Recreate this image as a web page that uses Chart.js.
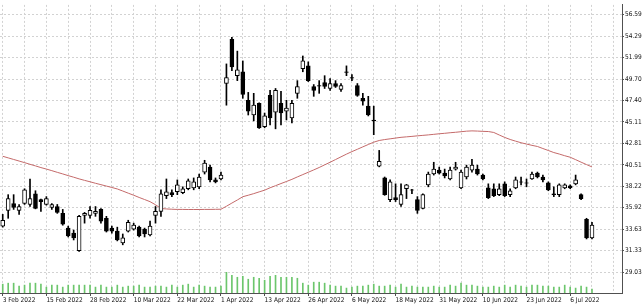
<!DOCTYPE html>
<html><head><meta charset="utf-8">
<script src="https://cdn.jsdelivr.net/npm/chart.js@4.4.0/dist/chart.umd.min.js"></script>
<style>html,body{margin:0;padding:0;background:#fff;overflow:hidden}#wrap{width:644px;height:305px;position:relative}</style>
</head><body><div id="wrap"><canvas id="c"></canvas></div>
<script>
const dates = ['3 Feb 2022','4 Feb 2022','7 Feb 2022','8 Feb 2022','9 Feb 2022','10 Feb 2022','11 Feb 2022','14 Feb 2022','15 Feb 2022','16 Feb 2022','17 Feb 2022','18 Feb 2022','22 Feb 2022','23 Feb 2022','24 Feb 2022','25 Feb 2022','28 Feb 2022',
'1 Mar 2022','2 Mar 2022','3 Mar 2022','4 Mar 2022','7 Mar 2022','8 Mar 2022','9 Mar 2022','10 Mar 2022','11 Mar 2022','14 Mar 2022','15 Mar 2022','16 Mar 2022','17 Mar 2022','18 Mar 2022','21 Mar 2022','22 Mar 2022','23 Mar 2022','24 Mar 2022','25 Mar 2022','28 Mar 2022','29 Mar 2022','30 Mar 2022','31 Mar 2022',
'1 Apr 2022','4 Apr 2022','5 Apr 2022','6 Apr 2022','7 Apr 2022','8 Apr 2022','11 Apr 2022','12 Apr 2022','13 Apr 2022','14 Apr 2022','18 Apr 2022','19 Apr 2022','20 Apr 2022','21 Apr 2022','22 Apr 2022','25 Apr 2022','26 Apr 2022','27 Apr 2022','28 Apr 2022','29 Apr 2022',
'2 May 2022','3 May 2022','4 May 2022','5 May 2022','6 May 2022','9 May 2022','10 May 2022','11 May 2022','12 May 2022','13 May 2022','16 May 2022','17 May 2022','18 May 2022','19 May 2022','20 May 2022','23 May 2022','24 May 2022','25 May 2022','26 May 2022','27 May 2022','31 May 2022',
'1 Jun 2022','2 Jun 2022','3 Jun 2022','6 Jun 2022','7 Jun 2022','8 Jun 2022','9 Jun 2022','10 Jun 2022','13 Jun 2022','14 Jun 2022','15 Jun 2022','16 Jun 2022','17 Jun 2022','21 Jun 2022','22 Jun 2022','23 Jun 2022','24 Jun 2022','27 Jun 2022','28 Jun 2022','29 Jun 2022','30 Jun 2022',
'1 Jul 2022','5 Jul 2022','6 Jul 2022','7 Jul 2022','8 Jul 2022','11 Jul 2022','12 Jul 2022'];

const open = [33.95,35.63,36.37,35.63,36.37,36.27,37.42,36.79,36.27,35.95,
36.05,35.32,33.74,33.21,31.32,35.11,35.11,35.32,35.74,34.79,
33.74,33.42,32.16,33.42,33.63,33.84,33.63,33.00,35.11,35.53,
37.21,37.53,37.63,37.53,37.95,38.05,38.16,39.74,40.27,38.90,
39.00,49.22,53.96,50.06,50.48,47.43,45.85,47.11,44.59,47.96,
46.16,47.11,46.27,45.53,48.17,50.80,51.11,48.90,49.01,49.32,
48.69,49.22,48.59,50.48,49.85,49.01,47.64,46.80,45.30,40.37,
39.11,36.79,37.00,36.27,37.95,37.84,36.79,35.84,38.37,39.53,
39.95,39.63,39.00,40.06,38.05,39.21,39.95,40.06,39.42,38.05,
37.95,37.32,38.48,37.32,38.05,38.69,38.58,39.00,39.63,39.21,
38.58,37.42,37.32,38.05,38.27,38.48,37.32,34.69,32.69];
const high = [35.21,37.32,37.32,36.27,37.95,39.00,37.74,36.85,37.11,36.37,
36.27,35.74,33.95,33.53,35.11,35.42,36.05,36.05,35.84,35.00,
33.95,33.84,33.11,34.58,34.27,33.95,33.74,34.48,36.05,37.84,
39.00,37.84,38.90,38.16,39.00,39.11,39.53,41.00,40.48,39.11,
39.74,51.32,54.17,52.69,51.64,48.27,48.17,47.15,46.06,48.48,
48.69,48.38,47.43,47.43,49.53,52.17,51.54,49.11,49.53,50.06,
49.74,49.53,49.22,51.11,50.17,49.22,48.17,47.85,46.80,42.06,
39.21,38.90,38.48,38.48,38.42,37.90,37.11,37.42,39.74,40.79,
40.27,40.06,40.27,40.79,39.95,40.48,41.11,40.48,39.53,38.48,
38.48,38.48,38.69,37.95,39.21,39.21,39.00,39.74,39.74,39.42,
38.69,38.16,38.48,38.48,38.37,39.42,37.42,34.79,34.37];
const low = [33.84,34.79,35.74,35.21,36.27,36.05,35.80,35.53,36.20,35.74,
35.32,34.05,32.79,32.47,31.25,34.27,34.79,35.00,34.27,33.32,
33.21,32.37,31.95,33.32,33.53,32.79,32.79,32.90,34.27,35.00,
36.90,37.11,37.32,37.42,37.84,37.84,37.95,39.53,38.69,38.58,
38.90,46.90,50.59,49.53,47.64,45.85,45.22,44.40,44.48,44.80,
44.37,44.80,45.32,45.01,47.64,50.48,49.43,47.85,48.17,48.69,
48.48,48.80,48.38,50.06,49.53,47.85,46.90,45.75,43.74,40.30,
37.25,36.58,36.58,36.05,36.90,37.42,35.32,35.80,38.16,39.42,
39.53,39.11,38.90,39.95,37.95,39.00,39.74,39.42,38.90,36.90,
37.11,37.21,37.11,37.11,37.95,38.37,38.16,38.95,39.11,38.69,
37.74,37.11,37.11,37.95,37.95,38.37,36.79,32.58,32.58];
const close = [34.58,36.90,35.95,36.05,37.84,36.90,35.84,36.58,36.90,36.27,
35.42,34.16,32.90,32.69,35.00,35.32,35.63,35.53,34.48,33.42,
33.42,32.47,32.69,34.37,34.05,32.90,33.11,33.95,35.53,37.42,
37.63,37.32,38.37,37.95,38.79,38.69,39.21,40.69,38.90,38.69,
39.42,49.85,51.01,50.69,48.06,46.27,46.90,44.48,45.75,45.53,
48.48,46.06,46.59,47.11,48.90,51.64,49.53,48.48,48.95,48.90,
49.22,48.90,49.01,50.42,49.80,47.96,47.32,45.85,45.22,40.90,
37.32,38.69,36.79,37.32,38.37,37.80,35.63,37.32,39.53,40.06,
39.63,39.32,39.95,40.27,39.74,40.27,40.48,39.53,39.00,37.00,
37.21,37.95,37.21,37.74,38.90,38.65,38.55,39.53,39.21,38.90,
37.84,37.32,38.37,38.37,38.05,38.90,36.90,32.69,34.05];
const volume = [9,10,10,7,8,10,10,9,6,8,
8,6,8,8,8,8,8,6,8,6,
6,8,6,7,7,8,6,6,7,7,
6,8,6,8,9,6,8,7,6,6,
7,21,18,16,17,14,16,15,13,17,
18,16,16,16,15,10,8,11,11,10,
8,7,7,5,6,7,7,8,9,7,
7,8,6,9,6,7,6,6,6,7,
6,6,8,7,10,8,8,7,6,6,
7,6,8,6,8,7,6,8,8,7,
7,6,6,8,6,5,7,6,4];
const movingAverage = [41.43,41.26,41.09,40.92,40.75,40.57,40.40,40.22,40.06,39.89,
39.71,39.54,39.36,39.19,39.01,38.85,38.70,38.54,38.39,38.24,
38.09,37.93,37.71,37.48,37.26,37.02,36.80,36.57,36.24,35.84,
35.79,35.76,35.74,35.74,35.73,35.73,35.73,35.74,35.74,35.75,
35.76,36.08,36.42,36.75,37.10,37.26,37.43,37.62,37.80,38.06,
38.28,38.51,38.73,38.96,39.22,39.47,39.72,39.97,40.23,40.51,
40.79,41.08,41.37,41.66,41.93,42.18,42.44,42.69,42.94,43.12,
43.22,43.30,43.38,43.46,43.51,43.56,43.62,43.67,43.72,43.78,
43.84,43.89,43.95,44.00,44.06,44.12,44.15,44.13,44.10,44.08,
43.98,43.71,43.45,43.23,43.05,42.88,42.74,42.60,42.48,42.26,
42.05,41.83,41.67,41.49,41.33,41.07,40.80,40.54,40.29];
const priceTicks = [56.59,54.29,51.99,49.70,47.40,45.11,42.81,40.51,38.22,35.92,33.63,31.33,29.03];
const dateTickLabels = ['3 Feb 2022','15 Feb 2022','28 Feb 2022','10 Mar 2022','22 Mar 2022','1 Apr 2022','13 Apr 2022','26 Apr 2022','6 May 2022','18 May 2022','31 May 2022','10 Jun 2022','23 Jun 2022','6 Jul 2022'];

const emptySlots = 5;
const categories = dates.concat(Array(emptySlots).fill(''));
const labelIdx = new Set(dateTickLabels.map(l => dates.indexOf(l)));
const FONT = "'Liberation Sans Narrow','DejaVu Sans Condensed','Liberation Sans',Arial,sans-serif";
const GRID = '#d2d2d2';
const AXIS = '#505050';

const bodies = dates.map((d, i) => [open[i], close[i]]);
const wicks = dates.map((d, i) => [low[i], high[i]]);

new Chart(document.getElementById('c'), {
  type: 'bar',
  data: {
    labels: categories,
    datasets: [
      {
        label: 'body', data: bodies, yAxisID: 'y', order: 1, grouped: false,
        barThickness: 4, borderWidth: 1, borderSkipped: false, borderColor: '#000',
        backgroundColor: ctx => (close[ctx.dataIndex] >= open[ctx.dataIndex] ? '#ffffff' : '#000000')
      },
      {
        label: 'wick', data: wicks, yAxisID: 'y', order: 2, grouped: false,
        barThickness: 1, borderWidth: 0, backgroundColor: '#000'
      },
      {
        type: 'line', label: 'MA', data: movingAverage, yAxisID: 'y', order: 3,
        borderColor: '#c46a6a', borderWidth: 1, pointRadius: 0, tension: 0, fill: false
      },
      {
        label: 'Volume', data: volume, yAxisID: 'yv', order: 4, grouped: false,
        barThickness: 1, borderWidth: 0, backgroundColor: '#6cc66c'
      }
    ]
  },
  options: {
    responsive: true, maintainAspectRatio: false, animation: false, devicePixelRatio: 1,
    layout: { padding: 0 },
    plugins: { legend: { display: false }, tooltip: { enabled: false } },
    scales: {
      x: {
        type: 'category', offset: true,
        grid: {
          offset: false,
          color: ctx => (ctx.index % 4 === 0 ? GRID : 'rgba(0,0,0,0)'),
          tickColor: ctx => (labelIdx.has(ctx.index) ? AXIS : 'rgba(0,0,0,0)'),
          tickLength: 3
        },
        border: { display: true, color: AXIS, dash: [2, 2] },
        ticks: {
          autoSkip: false, maxRotation: 0, minRotation: 0, align: 'start', padding: 0,
          color: '#111', font: { family: FONT, size: 6.5 },
          callback: function (v, i) { return labelIdx.has(i) ? this.getLabelForValue(v) : ''; }
        },
        afterFit: s => { s.height = 12; }
      },
      y: {
        type: 'linear', position: 'right', min: 26.79, max: 57.64,
        afterBuildTicks: s => { s.ticks = priceTicks.map(v => ({ value: v })); },
        grid: { color: GRID, tickColor: AXIS, tickLength: 2 },
        border: { display: true, color: AXIS, dash: [2, 2] },
        ticks: { color: '#111', padding: 1, font: { family: FONT, size: 6.5 }, callback: v => Number(v).toFixed(2) },
        afterFit: s => { s.width = 22; }
      },
      yv: { type: 'linear', display: false, min: 0, max: 293 }
    }
  }
});
</script>
</body></html>
